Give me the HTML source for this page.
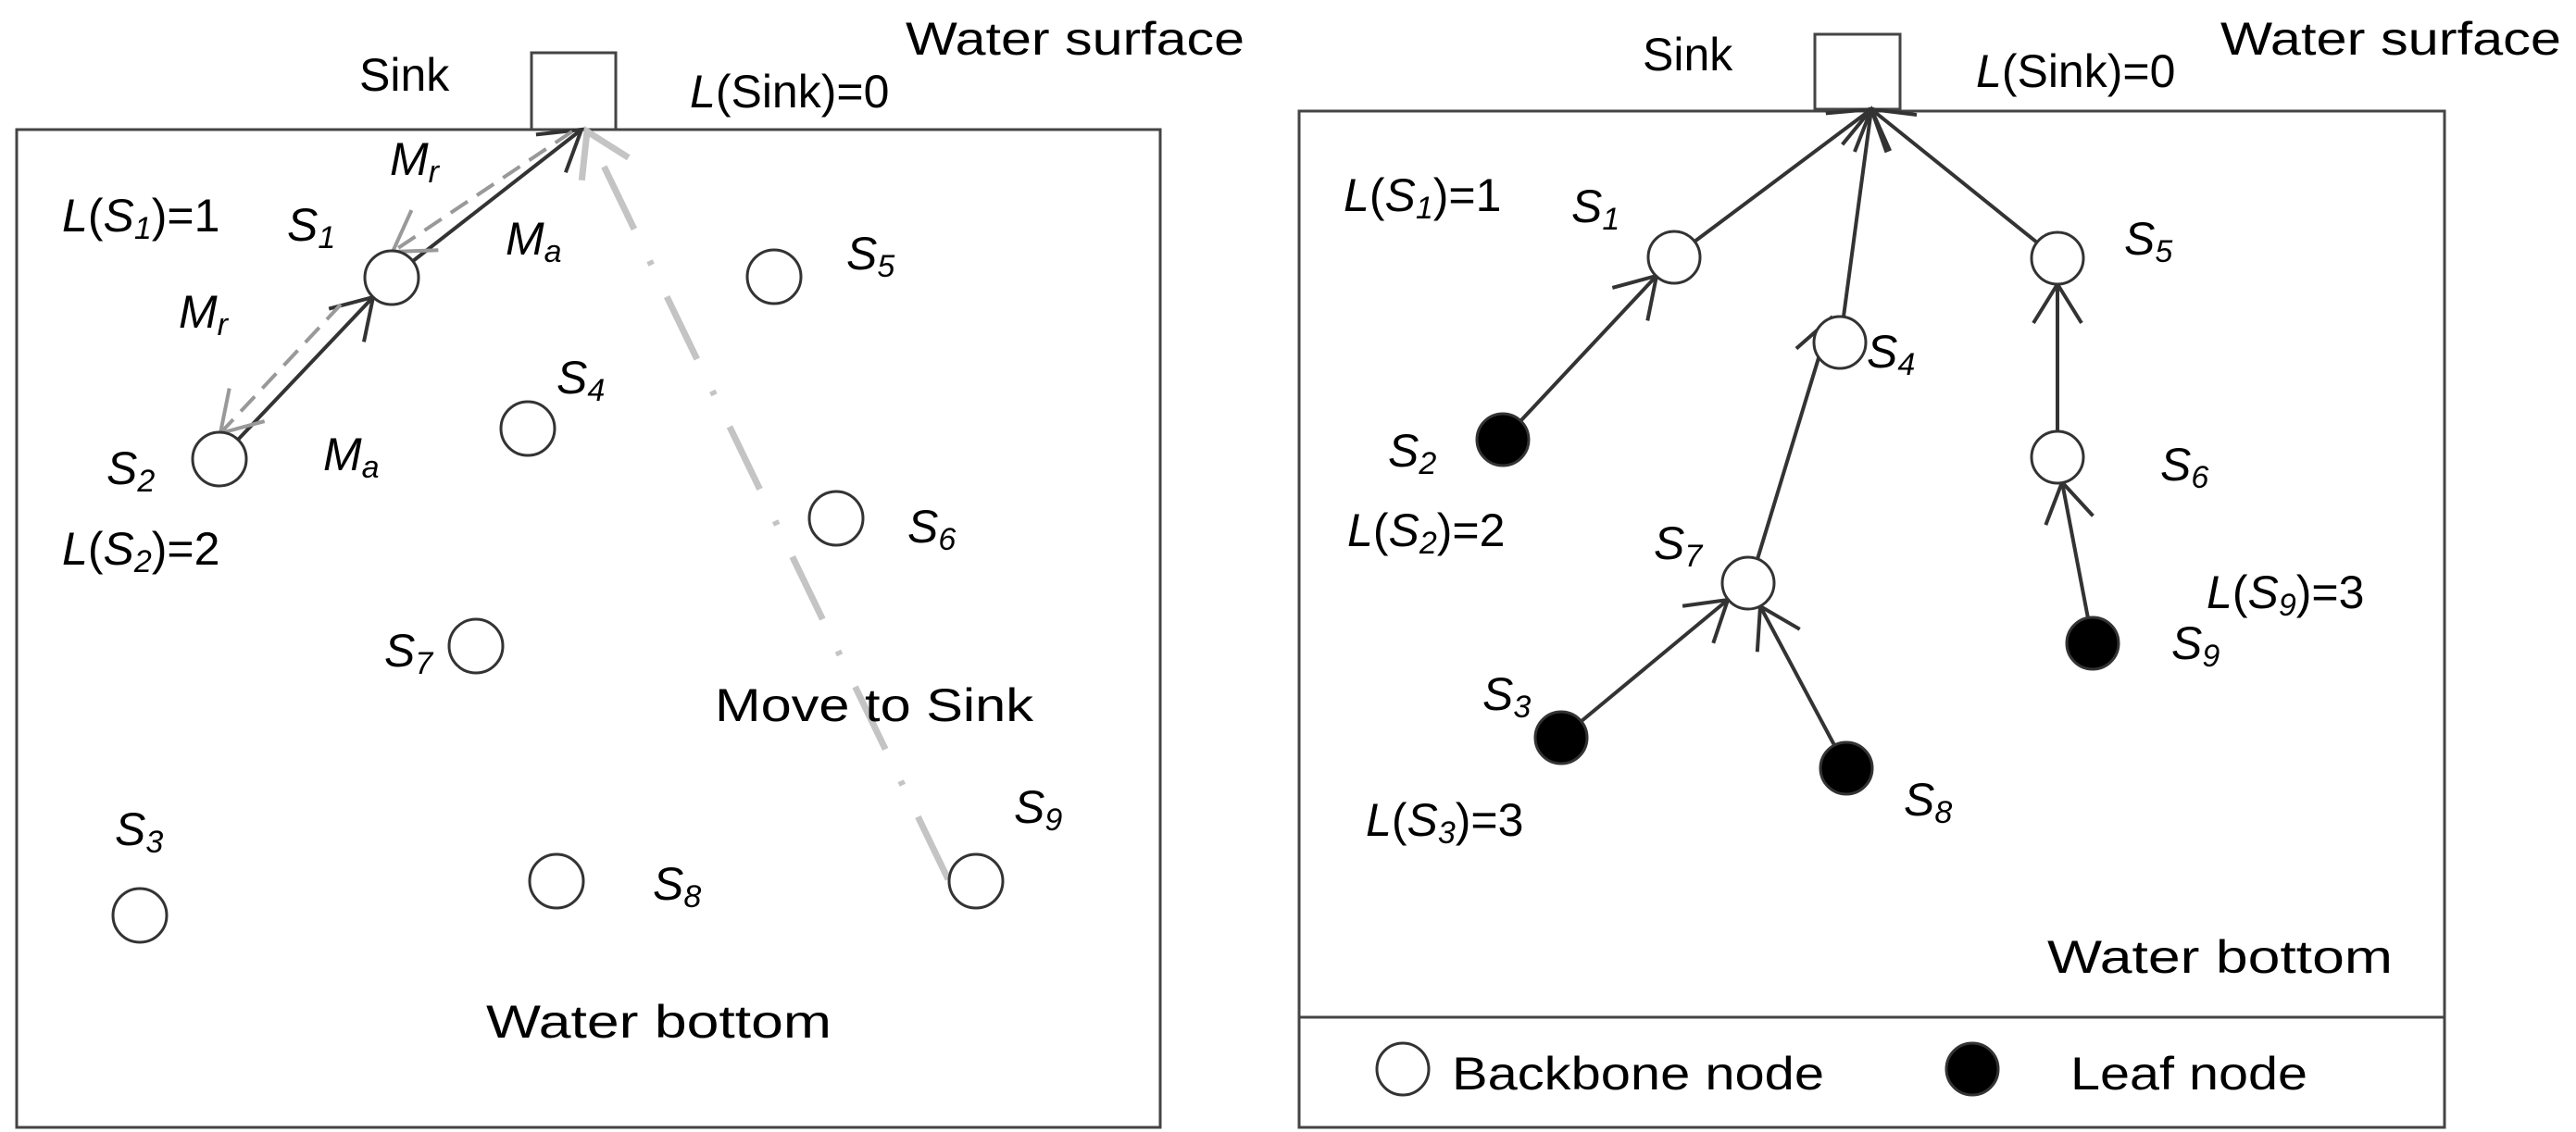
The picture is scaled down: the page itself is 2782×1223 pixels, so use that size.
<!DOCTYPE html>
<html><head><meta charset="utf-8"><style>
html,body{margin:0;padding:0;background:#fff;}
svg{display:block;}
text{font-family:"Liberation Sans",sans-serif;fill:#000;}
.t{font-size:50px;}
.s{font-size:50px;font-style:italic;}
.sub{font-size:34px;font-style:italic;}
</style></head><body>
<svg width="2782" height="1223" viewBox="0 0 2782 1223" xmlns="http://www.w3.org/2000/svg">
<defs>
<marker id="ab" markerUnits="userSpaceOnUse" markerWidth="100" markerHeight="100" refX="0" refY="0" viewBox="-50 -50 100 100" orient="auto" overflow="visible">
<path d="M-42,-26 L0,0 L-42,26" fill="none" stroke="#333" stroke-width="4"/></marker>
<marker id="ag" markerUnits="userSpaceOnUse" markerWidth="100" markerHeight="100" refX="0" refY="0" viewBox="-50 -50 100 100" orient="auto" overflow="visible">
<path d="M-42,-26 L0,0 L-42,26" fill="none" stroke="#999" stroke-width="4"/></marker>
<marker id="al" markerUnits="userSpaceOnUse" markerWidth="100" markerHeight="100" refX="0" refY="0" viewBox="-50 -50 100 100" orient="auto" overflow="visible">
<path d="M-45,-28 L0,0 L-45,28" fill="none" stroke="#c4c4c4" stroke-width="7"/></marker>
</defs>
<g fill="none" stroke="#444" stroke-width="3">
<rect x="18" y="140" width="1235" height="1078"/>
<rect x="574" y="57" width="91" height="83"/>
<rect x="1403" y="120" width="1237" height="1098"/>
<line x1="1403" y1="1099" x2="2640" y2="1099"/>
<rect x="1960" y="37" width="92" height="81"/>
</g>
<!-- left panel lines -->
<line x1="1024" y1="950" x2="634" y2="142" stroke="#c4c4c4" stroke-width="7" stroke-dasharray="75 38 5 38" marker-end="url(#al)"/>
<line x1="257" y1="475" x2="403" y2="321" stroke="#333" stroke-width="4" marker-end="url(#ab)"/>
<line x1="446" y1="282" x2="628" y2="140" stroke="#333" stroke-width="4" marker-end="url(#ab)"/>
<line x1="618" y1="142" x2="424" y2="272" stroke="#999" stroke-width="4" stroke-dasharray="22 12" marker-end="url(#ag)"/>
<line x1="368" y1="329" x2="238" y2="468" stroke="#999" stroke-width="4" stroke-dasharray="22 12" marker-end="url(#ag)"/>
<g fill="#fff" stroke="#333" stroke-width="3">
<circle cx="423" cy="300" r="29"/><circle cx="237" cy="496" r="29"/><circle cx="570" cy="463" r="29"/>
<circle cx="836" cy="299" r="29"/><circle cx="903" cy="560" r="29"/><circle cx="514" cy="698" r="29"/>
<circle cx="151" cy="989" r="29"/><circle cx="601" cy="952" r="29"/><circle cx="1054" cy="952" r="29"/>
</g>
<!-- right panel lines -->
<g stroke="#333" stroke-width="4" marker-end="url(#ab)">
<line x1="1830" y1="261" x2="2021" y2="118"/>
<line x1="1991" y1="342" x2="2021" y2="118"/>
<line x1="2200" y1="262" x2="2021" y2="118"/>
<line x1="1642" y1="455" x2="1789" y2="298"/>
<line x1="1898" y1="604" x2="1977" y2="344"/>
<line x1="1708" y1="779" x2="1866" y2="648"/>
<line x1="1981" y1="805" x2="1901" y2="655"/>
<line x1="2222" y1="466" x2="2222" y2="307"/>
<line x1="2255" y1="668" x2="2227" y2="521"/>
</g>
<g stroke="#333" stroke-width="3">
<circle cx="1808" cy="278" r="28" fill="#fff"/><circle cx="1987" cy="370" r="28" fill="#fff"/>
<circle cx="2222" cy="279" r="28" fill="#fff"/><circle cx="2222" cy="494" r="28" fill="#fff"/>
<circle cx="1888" cy="630" r="28" fill="#fff"/>
<circle cx="1623" cy="475" r="28" fill="#000"/><circle cx="1686" cy="797" r="28" fill="#000"/>
<circle cx="1994" cy="830" r="28" fill="#000"/><circle cx="2260" cy="695" r="28" fill="#000"/>
<circle cx="1515" cy="1155" r="28" fill="#fff"/><circle cx="2130" cy="1155" r="28" fill="#000"/>
</g>
<!-- left text -->
<text class="t" x="388" y="98">Sink</text>
<text class="t" x="978" y="59" textLength="366" lengthAdjust="spacingAndGlyphs">Water surface</text>
<text class="t" x="745" y="116"><tspan font-style="italic">L</tspan>(Sink)=0</text>
<text class="t" x="67" y="250"><tspan font-style="italic">L</tspan>(<tspan font-style="italic">S</tspan><tspan class="sub" dy="8">1</tspan><tspan dy="-8">)=1</tspan></text>
<text class="t" x="67" y="610"><tspan font-style="italic">L</tspan>(<tspan font-style="italic">S</tspan><tspan class="sub" dy="8">2</tspan><tspan dy="-8">)=2</tspan></text>
<text class="s" x="421" y="189">M<tspan class="sub" dy="8">r</tspan></text>
<text class="s" x="546" y="275">M<tspan class="sub" dy="8">a</tspan></text>
<text class="s" x="193" y="354">M<tspan class="sub" dy="8">r</tspan></text>
<text class="s" x="349" y="508">M<tspan class="sub" dy="8">a</tspan></text>
<text class="s" x="310" y="260">S<tspan class="sub" dy="8">1</tspan></text>
<text class="s" x="115" y="523">S<tspan class="sub" dy="8">2</tspan></text>
<text class="s" x="124" y="913">S<tspan class="sub" dy="8">3</tspan></text>
<text class="s" x="601" y="425">S<tspan class="sub" dy="8">4</tspan></text>
<text class="s" x="914" y="291">S<tspan class="sub" dy="8">5</tspan></text>
<text class="s" x="980" y="586">S<tspan class="sub" dy="8">6</tspan></text>
<text class="s" x="415" y="720">S<tspan class="sub" dy="8">7</tspan></text>
<text class="s" x="705" y="972">S<tspan class="sub" dy="8">8</tspan></text>
<text class="s" x="1095" y="889">S<tspan class="sub" dy="8">9</tspan></text>
<text class="t" x="772" y="779" textLength="344" lengthAdjust="spacingAndGlyphs">Move to Sink</text>
<text class="t" x="525" y="1121" textLength="373" lengthAdjust="spacingAndGlyphs">Water bottom</text>
<!-- right text -->
<text class="t" x="1774" y="76">Sink</text>
<text class="t" x="2398" y="59" textLength="368" lengthAdjust="spacingAndGlyphs">Water surface</text>
<text class="t" x="2134" y="94"><tspan font-style="italic">L</tspan>(Sink)=0</text>
<text class="t" x="1451" y="228"><tspan font-style="italic">L</tspan>(<tspan font-style="italic">S</tspan><tspan class="sub" dy="8">1</tspan><tspan dy="-8">)=1</tspan></text>
<text class="t" x="1455" y="590"><tspan font-style="italic">L</tspan>(<tspan font-style="italic">S</tspan><tspan class="sub" dy="8">2</tspan><tspan dy="-8">)=2</tspan></text>
<text class="t" x="1475" y="903"><tspan font-style="italic">L</tspan>(<tspan font-style="italic">S</tspan><tspan class="sub" dy="8">3</tspan><tspan dy="-8">)=3</tspan></text>
<text class="t" x="2383" y="657"><tspan font-style="italic">L</tspan>(<tspan font-style="italic">S</tspan><tspan class="sub" dy="8">9</tspan><tspan dy="-8">)=3</tspan></text>
<text class="s" x="1697" y="240">S<tspan class="sub" dy="8">1</tspan></text>
<text class="s" x="1499" y="504">S<tspan class="sub" dy="8">2</tspan></text>
<text class="s" x="1601" y="767">S<tspan class="sub" dy="8">3</tspan></text>
<text class="s" x="2016" y="397">S<tspan class="sub" dy="8">4</tspan></text>
<text class="s" x="2294" y="275">S<tspan class="sub" dy="8">5</tspan></text>
<text class="s" x="2333" y="519">S<tspan class="sub" dy="8">6</tspan></text>
<text class="s" x="1786" y="604">S<tspan class="sub" dy="8">7</tspan></text>
<text class="s" x="2056" y="881">S<tspan class="sub" dy="8">8</tspan></text>
<text class="s" x="2345" y="712">S<tspan class="sub" dy="8">9</tspan></text>
<text class="t" x="2211" y="1051" textLength="373" lengthAdjust="spacingAndGlyphs">Water bottom</text>
<text class="t" x="1568" y="1177" textLength="402" lengthAdjust="spacingAndGlyphs">Backbone node</text>
<text class="t" x="2236" y="1177" textLength="256" lengthAdjust="spacingAndGlyphs">Leaf node</text>
</svg>
</body></html>
